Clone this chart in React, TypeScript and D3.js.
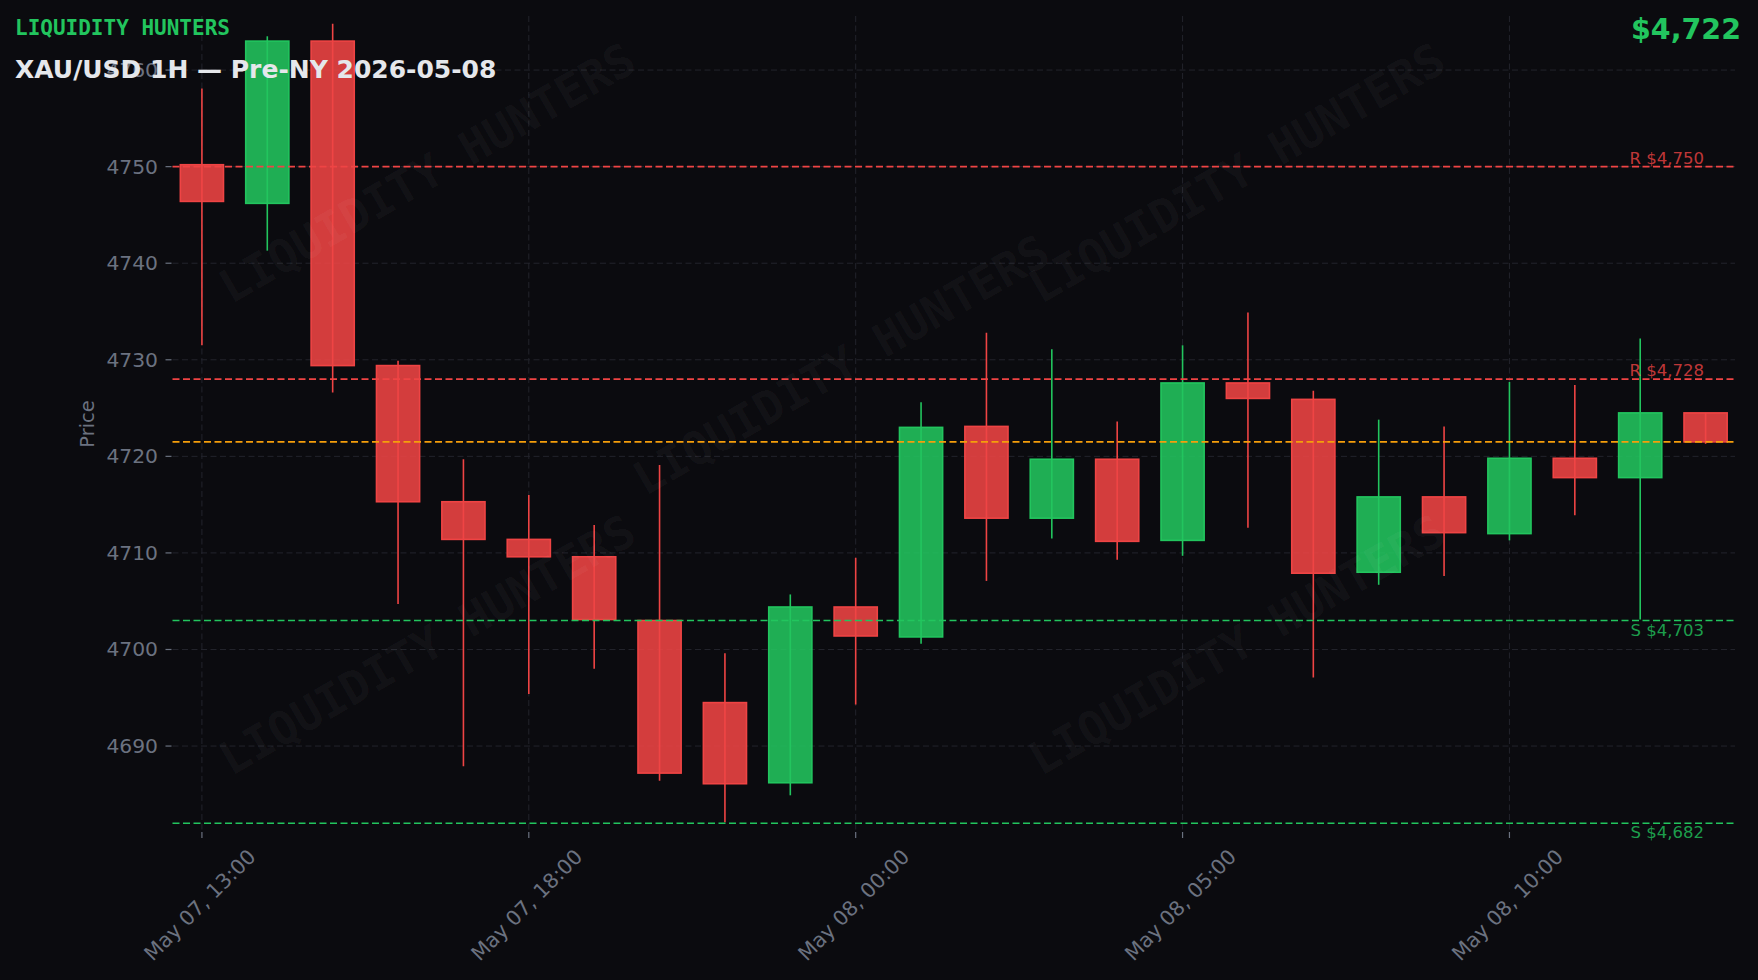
import React from "react";
import * as d3 from "d3";

// ---- data ----
const times = [
  "May 07, 13:00", "May 07, 14:00", "May 07, 15:00", "May 07, 16:00", "May 07, 17:00",
  "May 07, 18:00", "May 07, 19:00", "May 07, 20:00", "May 07, 22:00", "May 07, 23:00",
  "May 08, 00:00", "May 08, 01:00", "May 08, 02:00", "May 08, 03:00", "May 08, 04:00",
  "May 08, 05:00", "May 08, 06:00", "May 08, 07:00", "May 08, 08:00", "May 08, 09:00",
  "May 08, 10:00", "May 08, 11:00", "May 08, 12:00", "May 08, 13:00",
];
const opens = [4750.2, 4746.2, 4763.0, 4729.4, 4715.3, 4711.4, 4709.6, 4703.0, 4694.5, 4686.2, 4704.4, 4701.3, 4723.1, 4713.6, 4719.7, 4711.3, 4727.6, 4725.9, 4708.0, 4715.8, 4712.0, 4719.8, 4717.8, 4724.5];
const highs = [4758.1, 4763.5, 4764.8, 4729.9, 4719.7, 4716.0, 4712.9, 4719.1, 4699.6, 4705.7, 4709.5, 4725.6, 4732.8, 4731.1, 4723.6, 4731.5, 4734.9, 4726.8, 4723.8, 4723.1, 4727.7, 4727.4, 4732.2, 4724.5];
const lows = [4731.5, 4741.3, 4726.6, 4704.7, 4687.9, 4695.4, 4698.0, 4686.4, 4682.1, 4684.9, 4694.3, 4700.6, 4707.1, 4711.5, 4709.3, 4709.7, 4712.6, 4697.1, 4706.7, 4707.6, 4711.3, 4713.9, 4703.1, 4721.3];
const closes = [4746.4, 4763.0, 4729.4, 4715.3, 4711.4, 4709.6, 4703.1, 4687.2, 4686.1, 4704.4, 4701.4, 4723.0, 4713.6, 4719.7, 4711.2, 4727.6, 4726.0, 4707.9, 4715.8, 4712.1, 4719.8, 4717.8, 4724.5, 4721.5];

const yTicks = [4690, 4700, 4710, 4720, 4730, 4740, 4750, 4760];
const xTickIdx = [0, 5, 10, 15, 20];

const resistances = [4750, 4728];
const supports = [4703, 4682];
const currentPrice = 4721.5;

const brand = "LIQUIDITY HUNTERS";
const title = "XAU/USD 1H — Pre-NY 2026-05-08";

// watermark centres (fractions of the figure)
const wmX = [0.243, 0.4785, 0.7036, 0.243, 0.7036];
const wmY = [0.1765, 0.3725, 0.1765, 0.658, 0.658];

// ---- layout ----
const W = 1758;
const H = 980;
const M = { left: 172.5, right: 1735, top: 16, bottom: 832 };

const BG = "#0b0b0f";
const GREEN = "#22c55e";
const RED = "#ef4444";
const ORANGE = "#f59e0b";
const GRAY = "#6b7280";
const GRID = "#23242c";
const SANS = "'DejaVu Sans', sans-serif";
const MONO = "'DejaVu Sans Mono', monospace";

export default function App() {
  const x = d3.scaleLinear().domain([-0.45, opens.length - 1 + 0.45]).range([M.left, M.right]);
  const y = d3.scaleLinear().domain([4681.1, 4765.6]).range([M.bottom, M.top]);
  const step = x(1) - x(0);
  const bw = step * 0.66;
  const fmt = (v: number) => "$" + d3.format(",.0f")(v);

  return (
    <svg
      width={W}
      height={H}
      style={{ position: "absolute", left: 0, top: 0, display: "block", background: BG }}
    >
      <rect x={0} y={0} width={W} height={H} fill={BG} />

      {/* grid */}
      {yTicks.map((t) => (
        <line key={"gy" + t} x1={M.left} x2={M.right} y1={y(t)} y2={y(t)} stroke={GRID} strokeWidth={1} strokeDasharray="6,3.5" />
      ))}
      {xTickIdx.map((i) => (
        <line key={"gx" + i} x1={x(i)} x2={x(i)} y1={M.top} y2={M.bottom} stroke={GRID} strokeWidth={1} strokeDasharray="6,3.5" />
      ))}

      {/* y axis ticks */}
      {yTicks.map((t) => (
        <g key={"ty" + t}>
          <line x1={M.left - 7} x2={M.left - 1} y1={y(t)} y2={y(t)} stroke={GRAY} strokeWidth={1.2} />
          <text x={158} y={y(t)} textAnchor="end" dominantBaseline="central" fill={GRAY} fontFamily={SANS} fontSize={20.3}>
            {t}
          </text>
        </g>
      ))}
      <text
        transform={`translate(87,${(M.top + M.bottom) / 2}) rotate(-90)`}
        textAnchor="middle"
        dominantBaseline="central"
        fill={GRAY}
        fontFamily={SANS}
        fontSize={19.5}
      >
        Price
      </text>

      {/* x axis ticks */}
      {xTickIdx.map((i) => (
        <g key={"tx" + i}>
          <line x1={x(i)} x2={x(i)} y1={M.bottom} y2={M.bottom + 6} stroke={GRAY} strokeWidth={1.2} />
          <text
            transform={`translate(${x(i) - 2},905) rotate(-45)`}
            textAnchor="middle"
            dominantBaseline="central"
            fill={GRAY}
            fontFamily={SANS}
            fontSize={20.5}
          >
            {times[i]}
          </text>
        </g>
      ))}

      {/* candles */}
      {opens.map((o, i) => {
        const c = closes[i];
        const up = c >= o;
        const col = up ? GREEN : RED;
        const top = y(Math.max(o, c));
        const bot = y(Math.min(o, c));
        return (
          <g key={"c" + i}>
            <line x1={x(i)} x2={x(i)} y1={y(highs[i])} y2={y(lows[i])} stroke={col} strokeWidth={1.6} />
            <rect
              x={x(i) - bw / 2}
              y={top}
              width={bw}
              height={Math.max(1, bot - top)}
              fill={col}
              fillOpacity={0.88}
              stroke={col}
              strokeWidth={1.6}
            />
          </g>
        );
      })}

      {/* watermark */}
      {wmX.map((fx, k) => (
        <text
          key={"wm" + k}
          transform={`translate(${fx * W},${wmY[k] * H}) rotate(-30)`}
          textAnchor="middle"
          dominantBaseline="central"
          fill="#ffffff"
          fillOpacity={0.045}
          fontFamily={MONO}
          fontWeight="bold"
          fontSize={46}
        >
          {brand}
        </text>
      ))}

      {/* levels */}
      {resistances.map((r) => (
        <g key={"r" + r}>
          <line x1={M.left} x2={M.right} y1={y(r)} y2={y(r)} stroke={RED} strokeWidth={1.6} strokeDasharray="7,3.5" />
          <text x={1704} y={y(r) - 3} textAnchor="end" fill={RED} fillOpacity={0.8} fontFamily={SANS} fontSize={16.5}>
            {"R " + fmt(r)}
          </text>
        </g>
      ))}
      {supports.map((s) => (
        <g key={"s" + s}>
          <line x1={M.left} x2={M.right} y1={y(s)} y2={y(s)} stroke={GREEN} strokeWidth={1.6} strokeDasharray="7,3.5" />
          <text x={1704} y={y(s) + 15} textAnchor="end" fill={GREEN} fillOpacity={0.8} fontFamily={SANS} fontSize={16.5}>
            {"S " + fmt(s)}
          </text>
        </g>
      ))}
      <line
        x1={M.left}
        x2={M.right}
        y1={y(currentPrice)}
        y2={y(currentPrice)}
        stroke={ORANGE}
        strokeWidth={1.6}
        strokeDasharray="7,3.5"
      />

      {/* header */}
      <text x={15} y={35} fill={GREEN} fontFamily={MONO} fontWeight="bold" fontSize={21}>
        {brand}
      </text>
      <text x={15} y={78} fill="#e5e7eb" fontFamily={SANS} fontWeight="bold" fontSize={25}>
        {title}
      </text>
      <text x={1741} y={39} textAnchor="end" fill={GREEN} fontFamily={SANS} fontWeight="bold" fontSize={28.5}>
        {fmt(currentPrice)}
      </text>
    </svg>
  );
}
